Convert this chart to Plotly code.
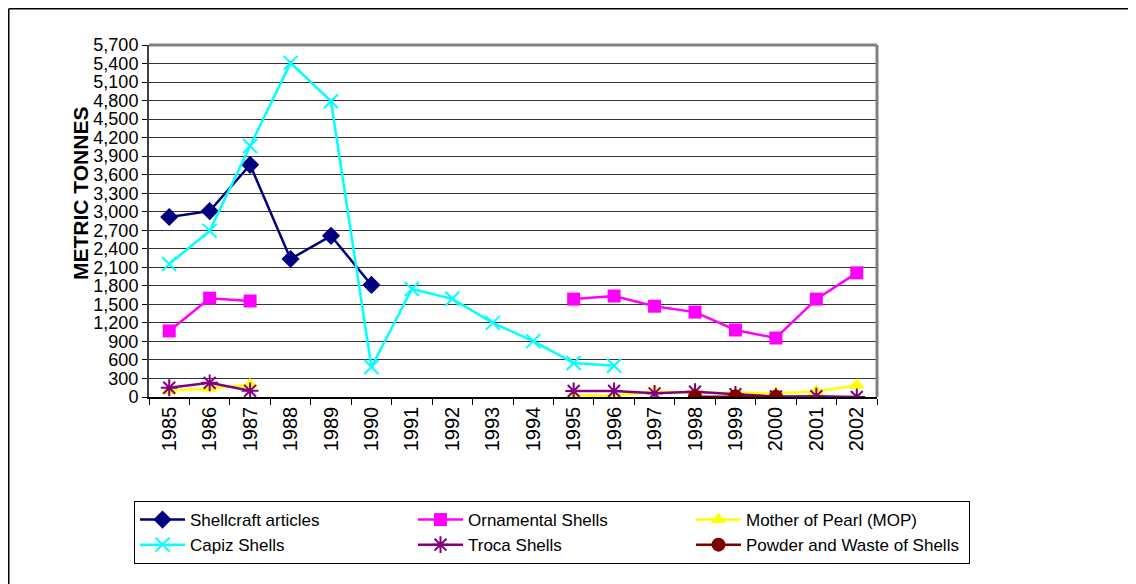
import plotly.graph_objects as go

years = [str(y) for y in range(1985, 2003)]

shellcraft = [2915, 3010, 3760, 2235, 2610, 1815, None, None, None, None, None, None, None, None, None, None, None, None]
ornamental = [1070, 1600, 1555, None, None, None, None, None, None, None, 1585, 1635, 1470, 1375, 1085, 955, 1585, 2010]
mop = [100, 140, 200, None, None, None, None, None, None, None, 30, 20, 90, 70, 70, 60, 90, 190]
capiz = [2155, 2690, 4065, 5410, 4790, 485, 1750, 1590, 1200, 905, 550, 505, None, None, None, None, None, None]
troca = [150, 230, 100, None, None, None, None, None, None, None, 97, 97, 60, 86, 44, 8, 12, 0]
powder = [None, None, None, None, None, None, None, None, None, None, None, None, None, 5, 10, 3, None, None]

y_ticks = list(range(0, 5701, 300))

series = [
    ("Shellcraft articles", shellcraft, "#000080", "diamond", 14, 0),
    ("Ornamental Shells", ornamental, "#FF00FF", "square", 13, 0),
    ("Mother of Pearl (MOP)", mop, "#FFFF00", "triangle-up", 14, 0),
    ("Capiz Shells", capiz, "#00FFFF", "x-thin-open", 14, 2),
    ("Troca Shells", troca, "#800080", "asterisk-open", 14, 2),
    ("Powder and Waste of Shells", powder, "#800000", "circle", 14, 0),
]

fig = go.Figure()
for name, vals, color, sym, size, lw in series:
    marker = dict(symbol=sym, size=size, color=color)
    if lw:
        marker["line"] = dict(color=color, width=lw)
    fig.add_trace(go.Scatter(
        x=years, y=vals, name=name, mode="lines+markers",
        line=dict(color=color, width=2.5), marker=marker,
        connectgaps=False,
    ))

font_family = "Liberation Sans, Arial, sans-serif"

W, H = 1128, 576
L, T, PW, PH = 141, 37, 728, 352

fig.update_layout(
    width=W, height=H,
    margin=dict(l=L, r=W - L - PW, t=T, b=H - T - PH),
    paper_bgcolor="white", plot_bgcolor="white",
    font=dict(family=font_family, color="black", size=15),
    showlegend=True,
    legend=dict(
        orientation="h", xref="paper", yref="paper",
        x=(126 - L) / PW, y=-(493 - (T + PH)) / PH, xanchor="left", yanchor="top",
        entrywidth=218, entrywidthmode="pixels",
        bordercolor="black", borderwidth=1,
        font=dict(family=font_family, size=17, color="black"),
        tracegroupgap=0, itemwidth=45,
    ),
    xaxis=dict(
        type="category", range=[-0.5, 17.5], tickson="boundaries",
        ticks="outside", ticklen=6, tickcolor="black",
        showgrid=False, showline=True, linecolor="black", linewidth=1.5,
        tickangle=-90, tickfont=dict(size=20, family=font_family),
        zeroline=False, automargin=False,
    ),
    yaxis=dict(
        range=[0, 5700], tickvals=y_ticks, tickformat=",",
        ticks="outside", ticklen=5, tickcolor="black",
        showgrid=True, gridcolor="#333333", gridwidth=1,
        showline=True, linecolor="#404040", linewidth=2,
        zeroline=False, automargin=False,
        tickfont=dict(size=18, family=font_family),
    ),
    annotations=[
        dict(text="<b>METRIC TONNES</b>", textangle=-90, showarrow=False,
             xref="paper", yref="paper",
             x=(72 - L) / PW, y=1 - (186 - T) / PH,
             xanchor="center", yanchor="middle",
             font=dict(size=21, family=font_family, color="black")),
    ],
    shapes=[
        dict(type="line", xref="paper", yref="paper", x0=0, x1=1, y0=1, y1=1,
             line=dict(color="#808080", width=3)),
        dict(type="line", xref="paper", yref="paper", x0=1, x1=1, y0=0, y1=1,
             line=dict(color="#808080", width=3)),
        dict(type="line", xref="paper", yref="paper", x0=(0.75 - L) / PW, x1=(W - L) / PW,
             y0=1 + (T - 0.75) / PH, y1=1 + (T - 0.75) / PH,
             line=dict(color="black", width=1.5)),
        dict(type="line", xref="paper", yref="paper", x0=(0.75 - L) / PW, x1=(0.75 - L) / PW,
             y0=-(H - T - PH) / PH, y1=1 + (T - 0.75) / PH,
             line=dict(color="black", width=1.5)),
    ],
)

fig.write_html("out.html")
